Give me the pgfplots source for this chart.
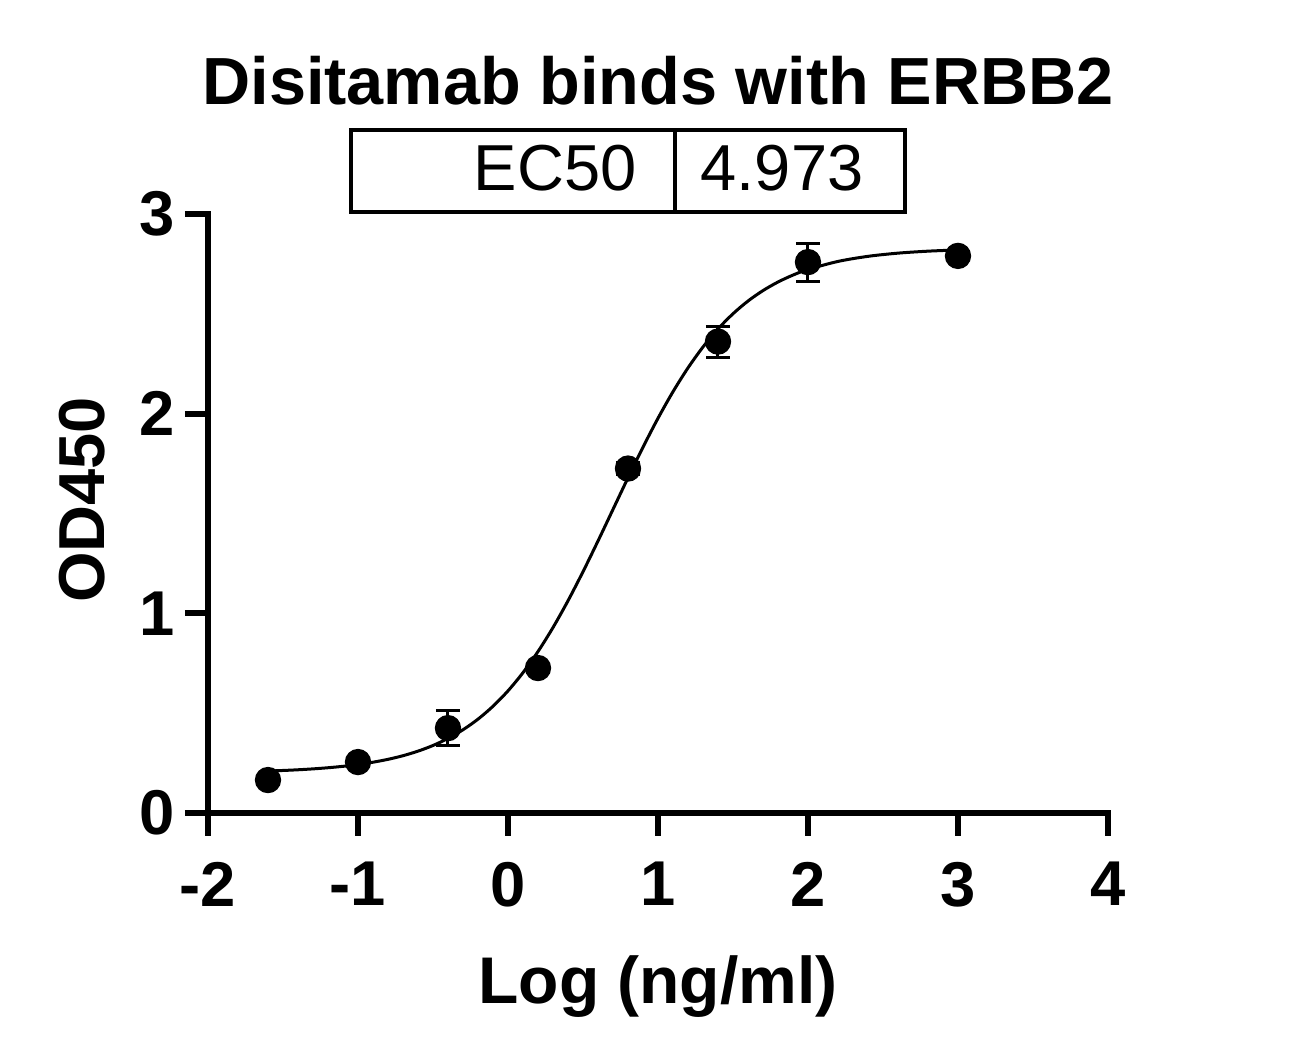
\documentclass[border=0pt]{standalone}
\usepackage{fontspec}
\setmainfont{Liberation Sans}
\usepackage{pgfplots}
\pgfplotsset{compat=1.18}
\begin{document}
\begin{tikzpicture}
\useasboundingbox (0,0) rectangle (392.1pt,318.3pt);
\begin{axis}[
  at={(62.4pt,74.4pt)}, anchor=south west,
  x=45pt, y=59.9pt,
  xmin=-2, xmax=4, ymin=0, ymax=3,
  axis lines=left,
  axis line style={line width=1.8pt, -, line cap=rect},
  clip=false,
  xtick={-2,-1,0,1,2,3,4}, xticklabels={-2,-1,0,1,2,3,4},
  ytick={0,1,2,3}, yticklabels={0,1,2,3},
  tick align=outside, major tick length=6.9pt,
  tick style={line width=1.8pt, black},
  xticklabel style={font=\fontsize{19}{21}\selectfont\bfseries, inner sep=0pt, yshift=-7.7pt},
  yticklabel style={font=\fontsize{19}{21}\selectfont\bfseries, inner sep=0pt, xshift=-3pt},
  title={Disitamab binds with ERBB2},
  title style={font=\fontsize{20}{22}\selectfont\bfseries, at={(axis description cs:0.5,1)}, anchor=base, yshift=26.7pt, inner sep=0pt},
  xlabel={Log (ng/ml)},
  xlabel style={font=\fontsize{19.8}{22}\selectfont\bfseries, at={(axis description cs:0.5,0)}, anchor=base, yshift=-57.3pt, inner sep=0pt},
  ylabel={OD450},
  ylabel style={font=\fontsize{19.5}{22}\selectfont\bfseries, at={(axis description cs:0,0.5225)}, anchor=base, yshift=31.2pt, inner sep=0pt},
]
% fitted 4PL curve (values tabulated)
\addplot[black, line width=0.9pt, smooth, no marks] coordinates {
(-1.6,0.2102) (-1.5,0.2129) (-1.4,0.2164) (-1.3,0.2209) (-1.2,0.2266) (-1.1,0.2337)
(-1.0,0.2428) (-0.9,0.2543) (-0.8,0.2687) (-0.7,0.2869) (-0.6,0.3097) (-0.5,0.3381)
(-0.4,0.3734) (-0.3,0.4168) (-0.2,0.4700) (-0.1,0.5345) (0.0,0.6117) (0.1,0.7028)
(0.2,0.8085) (0.3,0.9288) (0.4,1.0628) (0.5,1.2084) (0.6,1.3622) (0.7,1.5205)
(0.8,1.6786) (0.9,1.8320) (1.0,1.9769) (1.1,2.1099) (1.2,2.2292) (1.3,2.3339)
(1.4,2.4241) (1.5,2.5003) (1.6,2.5640) (1.7,2.6164) (1.8,2.6593) (1.9,2.6941)
(2.0,2.7221) (2.2,2.7624) (2.4,2.7879) (2.6,2.8039) (2.8,2.8138) (3.0,2.8200)
};
% measured means with SD
\addplot[black, only marks, mark=*, mark size=3.75pt,
  error bars/.cd, y dir=both, y explicit,
  error bar style={line width=0.9pt, black},
  error mark options={line width=0.9pt, mark size=3.6pt, rotate=90}]
  coordinates {
(-1.6,0.165) +- (0,0.02)
(-1.0,0.255) +- (0,0.02)
(-0.4,0.425) +- (0,0.088)
(0.2,0.726) +- (0,0.02)
(0.8,1.725) +- (0,0.03)
(1.4,2.361) +- (0,0.078)
(2.0,2.759) +- (0,0.095)
(3.0,2.790) +- (0,0.02)
};
\end{axis}
\draw[line width=1.2pt] (105.3pt,254.7pt) rectangle (271.5pt,279.3pt);
\draw[line width=1.2pt] (202.5pt,254.7pt) -- (202.5pt,279.3pt);
\node[anchor=base east, inner sep=0pt, font=\fontsize{19.5}{22}\selectfont] at (191.1pt,261pt) {EC50};
\node[anchor=base west, inner sep=0pt, font=\fontsize{19.5}{22}\selectfont] at (210pt,261pt) {4.973};
\end{tikzpicture}
\end{document}
